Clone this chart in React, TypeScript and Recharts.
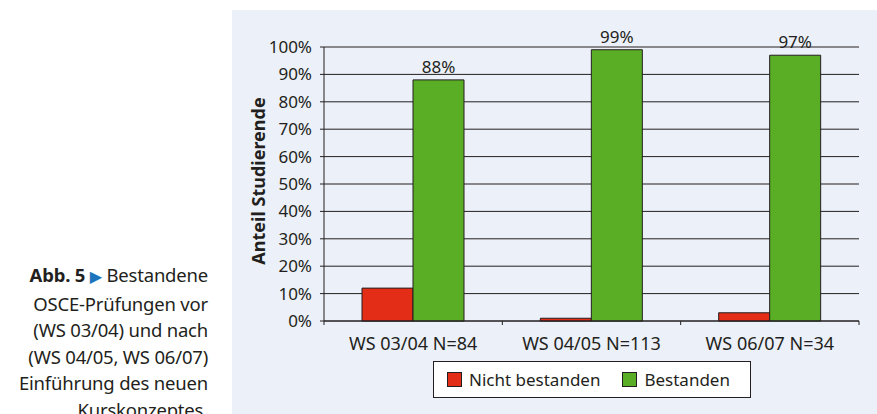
import React from 'react';
import { BarChart, Bar, XAxis, YAxis, CartesianGrid, Legend, LabelList } from 'recharts';

const categories = ['WS 03/04 N=84', 'WS 04/05 N=113', 'WS 06/07 N=34'];
const nichtBestanden = [12, 1, 3];
const bestanden = [88, 99, 97];
const yTicks = [0, 10, 20, 30, 40, 50, 60, 70, 80, 90, 100];
const seriesNames = ['Nicht bestanden', 'Bestanden'];
const seriesColors = ['#e32d17', '#5aae25'];
const yAxisTitle = 'Anteil Studierende';
const captionBold = 'Abb. 5';
const captionLines = [
  'Bestandene',
  'OSCE-Prüfungen vor',
  '(WS 03/04) und nach',
  '(WS 04/05, WS 06/07)',
  'Einführung des neuen',
  'Kurskonzeptes.',
];

const data = categories.map((c, i) => ({
  name: c,
  nicht: nichtBestanden[i],
  best: bestanden[i],
}));

const INK = '#231f20';
const FONT = '"Noto Sans", sans-serif';
const CHART_W = 645;
const CHART_H = 404;
const MARGIN = { top: 37, right: 18, left: 0, bottom: 63 };
const Y_W = 92;
const PLOT_W = CHART_W - MARGIN.left - MARGIN.right - Y_W;
const HALF = PLOT_W / categories.length / 2;

const XTick = (props: any) => {
  const { x, y, payload, index } = props;
  const isLast = index === categories.length - 1;
  return (
    <g>
      <line x1={x - HALF} x2={x - HALF} y1={y} y2={y + 4} stroke={INK} strokeWidth={1} />
      {isLast && <line x1={x + HALF} x2={x + HALF} y1={y} y2={y + 4} stroke={INK} strokeWidth={1} />}
      <text x={x} y={y + 29} textAnchor="middle" fill={INK} fontSize={18} fontFamily={FONT}>
        {payload.value}
      </text>
    </g>
  );
};

const YTitle = (props: any) => {
  const vb = props.viewBox || {};
  const cx = 26;
  const cy = (vb.y ?? 37) + (vb.height ?? 274) / 2 - 3;
  return (
    <text
      x={cx}
      y={cy}
      transform={`rotate(-90, ${cx}, ${cy})`}
      textAnchor="middle"
      dominantBaseline="central"
      fontWeight="bold"
      fontSize={18}
      fontFamily={FONT}
      fill={INK}
    >
      {yAxisTitle}
    </text>
  );
};

const LegendBox = (props: any) => {
  const payload = [...(props.payload || [])].sort(
    (a: any, b: any) => seriesNames.indexOf(a.value) - seriesNames.indexOf(b.value)
  );
  return (
    <div
      style={{
        boxSizing: 'border-box',
        width: 318,
        height: 37,
        border: `1px solid ${INK}`,
        background: '#ffffff',
        display: 'flex',
        alignItems: 'center',
        paddingLeft: 13,
        fontFamily: FONT,
        fontSize: 17,
        color: INK,
        whiteSpace: 'nowrap',
      }}
    >
      {payload.map((p: any, i: number) => (
        <div key={i} style={{ display: 'flex', alignItems: 'center', marginRight: 22, flexShrink: 0 }}>
          <span
            style={{
              display: 'inline-block',
              boxSizing: 'border-box',
              width: 15,
              height: 15,
              background: p.color,
              border: `1px solid ${INK}`,
              marginRight: 7,
            }}
          />
          <span style={{ lineHeight: '17px' }}>{p.value}</span>
        </div>
      ))}
    </div>
  );
};

export default function App() {
  return (
    <div
      style={{
        position: 'absolute',
        left: 0,
        top: 0,
        width: 877,
        height: 414,
        background: '#ffffff',
        overflow: 'hidden',
        fontFamily: FONT,
      }}
    >
      <div
        style={{
          position: 'absolute',
          left: 0,
          top: 262,
          width: 208,
          textAlign: 'right',
          fontSize: 18.5,
          lineHeight: '26.5px',
          color: INK,
          whiteSpace: 'nowrap',
          letterSpacing: -0.2,
        }}
      >
        <span style={{ fontWeight: 'bold' }}>{captionBold}</span>{' '}
        <span style={{ color: '#1b74bc', fontFamily: '"DejaVu Sans", sans-serif', fontSize: 16 }}>▶</span>{' '}
        {captionLines[0]}
        {captionLines.slice(1).map((l, i) => (
          <React.Fragment key={i}>
            <br />
            {l}
          </React.Fragment>
        ))}
      </div>
      <div
        style={{
          position: 'absolute',
          left: 232,
          top: 10,
          width: CHART_W,
          height: CHART_H,
          background: '#ecf0f8',
        }}
      >
        <BarChart
          width={CHART_W}
          height={CHART_H}
          data={data}
          margin={MARGIN}
          barGap={0}
          barSize={51}
        >
          <CartesianGrid horizontal={true} vertical={false} stroke={INK} strokeWidth={1} />
          <XAxis
            dataKey="name"
            height={30}
            tickLine={false}
            tickSize={0}
            tickMargin={0}
            axisLine={{ stroke: INK, strokeWidth: 1 }}
            tick={<XTick />}
            interval={0}
          />
          <YAxis
            width={Y_W}
            domain={[0, 100]}
            ticks={yTicks}
            interval={0}
            tickFormatter={(v: number) => `${v}%`}
            tickSize={4}
            tickMargin={8}
            axisLine={{ stroke: INK, strokeWidth: 1 }}
            tickLine={{ stroke: INK, strokeWidth: 1 }}
            tick={{ fill: INK, fontSize: 17, fontFamily: FONT }}
            label={<YTitle />}
          />
          <Legend
            layout="horizontal"
            verticalAlign="middle"
            align="center"
            wrapperStyle={{ left: 201, top: 351, width: 318, height: 37 }}
            content={<LegendBox />}
          />
          <Bar
            dataKey="nicht"
            name={seriesNames[0]}
            fill={seriesColors[0]}
            stroke={INK}
            strokeWidth={1}
            isAnimationActive={false}
          />
          <Bar
            dataKey="best"
            name={seriesNames[1]}
            fill={seriesColors[1]}
            stroke={INK}
            strokeWidth={1}
            isAnimationActive={false}
          >
            <LabelList
              dataKey="best"
              position="top"
              offset={7}
              formatter={(v: any) => `${v}%`}
              fill={INK}
              fontSize={17}
              fontFamily={FONT}
            />
          </Bar>
        </BarChart>
      </div>
    </div>
  );
}
